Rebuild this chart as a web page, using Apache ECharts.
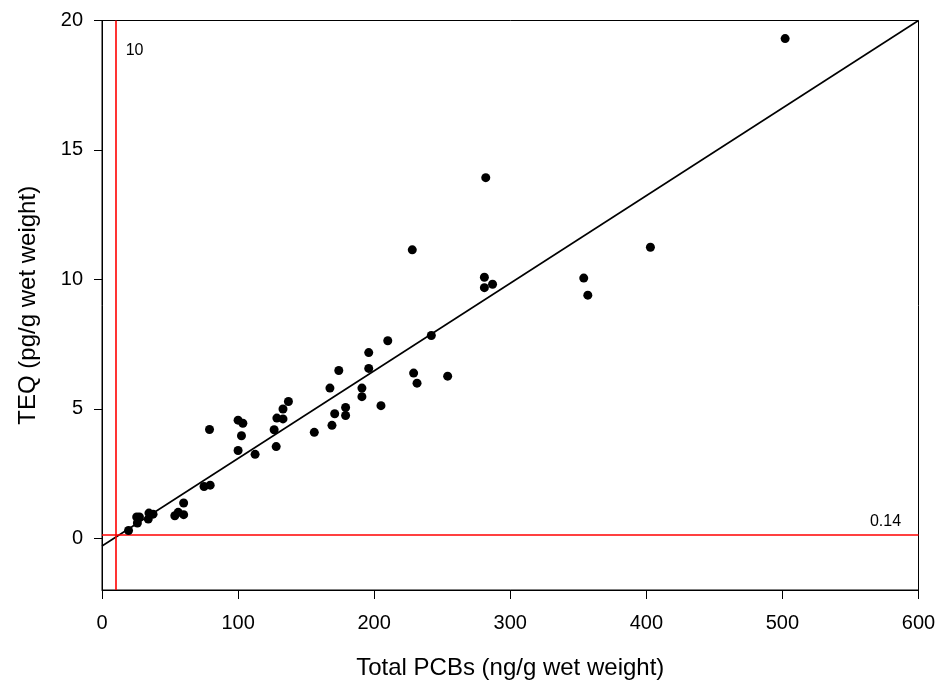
<!DOCTYPE html>
<html>
<head>
<meta charset="utf-8">
<title>TEQ vs Total PCBs</title>
<script src="https://cdn.jsdelivr.net/npm/echarts@6/dist/echarts.min.js"></script>
<style>
  html, body { margin: 0; padding: 0; background: #fff; }
  #chart { width: 939px; height: 685px; }
</style>
</head>
<body>
<div id="chart"></div>
<script>
// 数据
var totalPCBs = [502, 282, 228, 403, 281, 281, 287, 354, 357, 242,
  210, 196, 196, 174, 167.5, 191, 191, 229, 231.5, 254,
  137, 133, 128.5, 133, 179, 179, 171, 169, 205, 156,
  126.5, 128, 112.5, 100, 103.5, 102.5, 100, 79, 75, 79.5,
  60, 53.5, 56, 60, 37.5, 34.5, 34, 25.5, 27.5, 26, 19.5]
var teq = [19.3, 13.93, 11.14, 11.24, 10.08, 9.68, 9.81, 10.05, 9.39, 7.83,
  7.63, 7.17, 6.56, 6.48, 5.8, 5.8, 5.47, 6.38, 5.99, 6.26,
  5.28, 4.99, 4.64, 4.61, 5.05, 4.74, 4.81, 4.36, 5.12, 4.09,
  4.19, 3.54, 3.24, 4.56, 4.44, 3.96, 3.39, 4.2, 2.0, 2.05,
  1.36, 0.87, 1.0, 0.91, 0.93, 0.97, 0.74, 0.82, 0.82, 0.59, 0.3]
// 回归线 (x, y)
var fitLine = [[0, -0.3], [600, 20]]
// 参考线
var refX = 10
var refY = 0.14
var yTicks = [0, 5, 10, 15, 20]

;(function () {
  var myChart = echarts.init(document.getElementById('chart'))
  var font = 'Liberation Sans, Arial, sans-serif'

  var points = totalPCBs.map(function (x, i) { return [x, teq[i]] })

  var option = {
    animation: false,
    grid: {
      left: 102,
      right: 20.5,
      top: 20.5,
      bottom: 94.5,
      show: true,
      borderColor: '#000',
      borderWidth: 1,
    },
    xAxis: {
      type: 'value',
      min: 0,
      max: 600,
      interval: 100,
      name: 'Total PCBs (ng/g wet weight)',
      nameLocation: 'middle',
      nameGap: 66,
      nameTextStyle: { color: '#000', fontSize: 24, fontFamily: font },
      axisLine: { show: true, onZero: false, lineStyle: { color: '#000', width: 1 } },
      axisTick: { show: true, length: 9, lineStyle: { color: '#000' } },
      axisLabel: { color: '#000', fontSize: 20, fontFamily: font, margin: 23 },
      splitLine: { show: false },
    },
    yAxis: {
      type: 'value',
      min: -2,
      max: 20,
      name: 'TEQ (pg/g wet weight)',
      nameLocation: 'middle',
      nameGap: 62,
      nameTextStyle: { color: '#000', fontSize: 24, fontFamily: font },
      axisLine: { show: true, onZero: false, lineStyle: { color: '#000', width: 1 } },
      axisTick: { show: true, length: 8, customValues: yTicks, lineStyle: { color: '#000' } },
      axisLabel: { color: '#000', fontSize: 20, fontFamily: font, margin: 19, customValues: yTicks },
      splitLine: { show: false },
    },
    series: [
      {
        name: 'samples',
        type: 'scatter',
        symbol: 'circle',
        symbolSize: 9,
        itemStyle: { color: '#000', opacity: 1 },
        data: points,
        z: 5,
      },
      {
        name: 'fit',
        type: 'line',
        data: fitLine,
        symbol: 'none',
        lineStyle: { color: '#000', width: 1.6 },
        z: 4,
        markLine: {
          silent: true,
          symbol: 'none',
          lineStyle: { color: '#ff0000', width: 1.6, type: 'solid' },
          label: { show: false },
          data: [{ xAxis: refX }, { yAxis: refY }],
        },
        markPoint: {
          silent: true,
          symbol: 'circle',
          symbolSize: 0,
          label: { show: true, color: '#000', fontSize: 16, fontFamily: font },
          data: [
            { coord: [refX, 20], value: '10', label: { offset: [19, 30] } },
            { coord: [600, refY], value: '0.14', label: { offset: [-33, -13] } },
          ],
        },
      },
    ],
  }
  myChart.setOption(option)
})()
</script>
</body>
</html>
